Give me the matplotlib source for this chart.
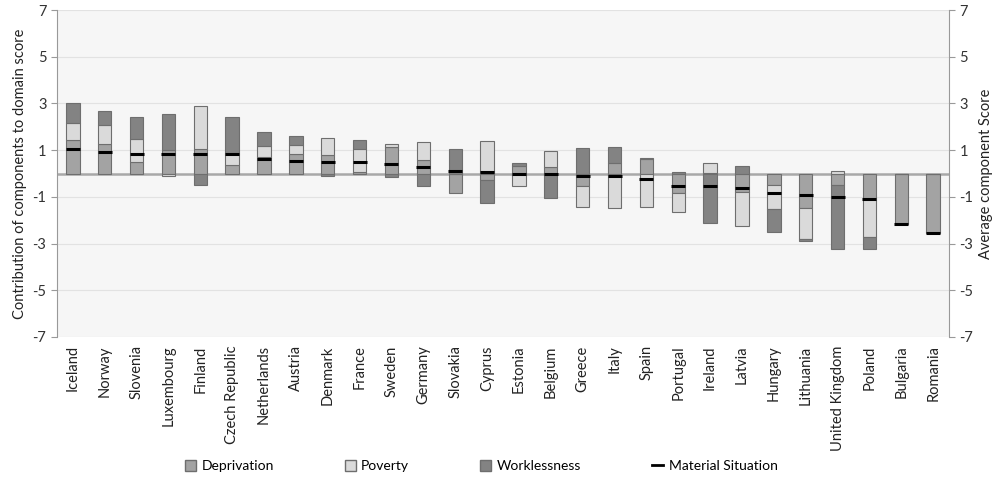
import numpy as np
import matplotlib
matplotlib.use("Agg")
import matplotlib.pyplot as plt
from matplotlib.patches import Patch
from matplotlib.lines import Line2D

plt.rcParams['font.family'] = ['Lato', 'DejaVu Sans']
plt.rcParams['axes.unicode_minus'] = False

countries = ['Iceland', 'Norway', 'Slovenia', 'Luxembourg', 'Finland', 'Czech Republic',
             'Netherlands', 'Austria', 'Denmark', 'France', 'Sweden', 'Germany', 'Slovakia',
             'Cyprus', 'Estonia', 'Belgium', 'Greece', 'Italy', 'Spain', 'Portugal', 'Ireland',
             'Latvia', 'Hungary', 'Lithuania', 'United Kingdom', 'Poland', 'Bulgaria', 'Romania']

deprivation = [1.44, 1.25, 0.49, 1.00, 1.05, 0.35, 0.72, 0.82, 0.78, 0.08, 1.15, 0.60, -0.82,
               -0.28, 0.33, 0.29, -0.52, 0.46, 0.62, -0.82, 0.02, -0.80, -0.50, -1.49, -0.50,
               -1.07, -2.17, -2.53]
poverty = [0.71, 0.84, 0.98, -0.12, 1.85, 0.47, 0.46, 0.39, 0.72, 0.99, 0.13, 0.75, 0.00,
           1.40, -0.52, 0.67, -0.90, -1.46, -1.45, -0.84, 0.44, -1.43, -1.03, -1.33, 0.12,
           -1.65, 0.00, 0.00]
worklessness = [0.87, 0.58, 0.94, 1.55, -0.48, 1.59, 0.61, 0.38, -0.09, 0.36, -0.14, -0.52,
                1.07, -1.00, 0.13, -1.04, 1.08, 0.66, 0.05, 0.07, -2.10, 0.33, -0.99, -0.07,
                -2.73, -0.51, 0.00, 0.00]
material = [1.04, 0.92, 0.84, 0.84, 0.83, 0.82, 0.62, 0.54, 0.50, 0.48, 0.40, 0.28, 0.10,
            0.05, -0.02, -0.03, -0.10, -0.09, -0.22, -0.52, -0.54, -0.60, -0.82, -0.94, -1.02,
            -1.07, -2.17, -2.53]

components = [('Deprivation', deprivation, '#a3a3a3'),
              ('Poverty', poverty, '#dadada'),
              ('Worklessness', worklessness, '#838383')]

fig = plt.figure(figsize=(9.98, 4.78), dpi=100)
ax = fig.add_axes([0.057, 0.295, 0.894, 0.684])
ax.set_facecolor('#f6f6f6')

x = np.arange(len(countries))
width = 0.42
pos_base = np.zeros(len(countries))
neg_base = np.zeros(len(countries))
for name, vals, col in components:
    v = np.array(vals)
    bottom = np.where(v >= 0, pos_base, neg_base)
    ax.bar(x, v, width, bottom=bottom, color=col, edgecolor='#6e6e6e', linewidth=0.8, zorder=3)
    pos_base += np.where(v >= 0, v, 0)
    neg_base += np.where(v < 0, v, 0)

# material situation = short black tick across each bar
ax.plot(x, material, linestyle='none', marker='_', markersize=9.8, mew=2.2,
        color='black', zorder=5)

ax.axhline(0, color='#a8a8a8', linewidth=1.8, zorder=2)

ticks = [-7, -5, -3, -1, 1, 3, 5, 7]
ax.set_ylim(-7, 7)
ax.set_xlim(-0.5, len(countries) - 0.5)
ax.set_yticks(ticks)
ax.yaxis.grid(True, color='#e2e2e2', linewidth=0.8, zorder=0)
ax.set_xticks(x)
ax.set_xticklabels(countries, rotation=90, fontsize=10.5, color='#222222')
ax.tick_params(axis='x', length=0, pad=6)
ax.tick_params(axis='y', labelsize=10.5, colors='#333333', length=4, color='#999999')
ax.set_ylabel('Contribution of components to domain score', fontsize=10.5, color='#222222')
for s in ['top', 'bottom', 'right']:
    ax.spines[s].set_visible(False)
ax.spines['left'].set_color('#999999')

ax2 = ax.twinx()
ax2.set_ylim(-7, 7)
ax2.set_yticks(ticks)
ax2.tick_params(axis='y', labelsize=10.5, colors='#333333', length=4, color='#999999')
ax2.set_ylabel('Average component Score', fontsize=10.5, color='#222222')
for s in ['top', 'bottom', 'left']:
    ax2.spines[s].set_visible(False)
ax2.spines['right'].set_color('#999999')

handles = [Patch(facecolor=c, edgecolor='#6e6e6e', label=n) for n, _, c in components]
handles.append(Line2D([], [], color='black', linewidth=2, label='Material Situation'))
fig.legend(handles=handles, loc='center', bbox_to_anchor=(0.482, 0.025), ncol=4,
           frameon=False, fontsize=10, handlelength=0.8, handleheight=0.8,
           handletextpad=0.4, columnspacing=5.1)

plt.savefig('out.png', dpi=100)
